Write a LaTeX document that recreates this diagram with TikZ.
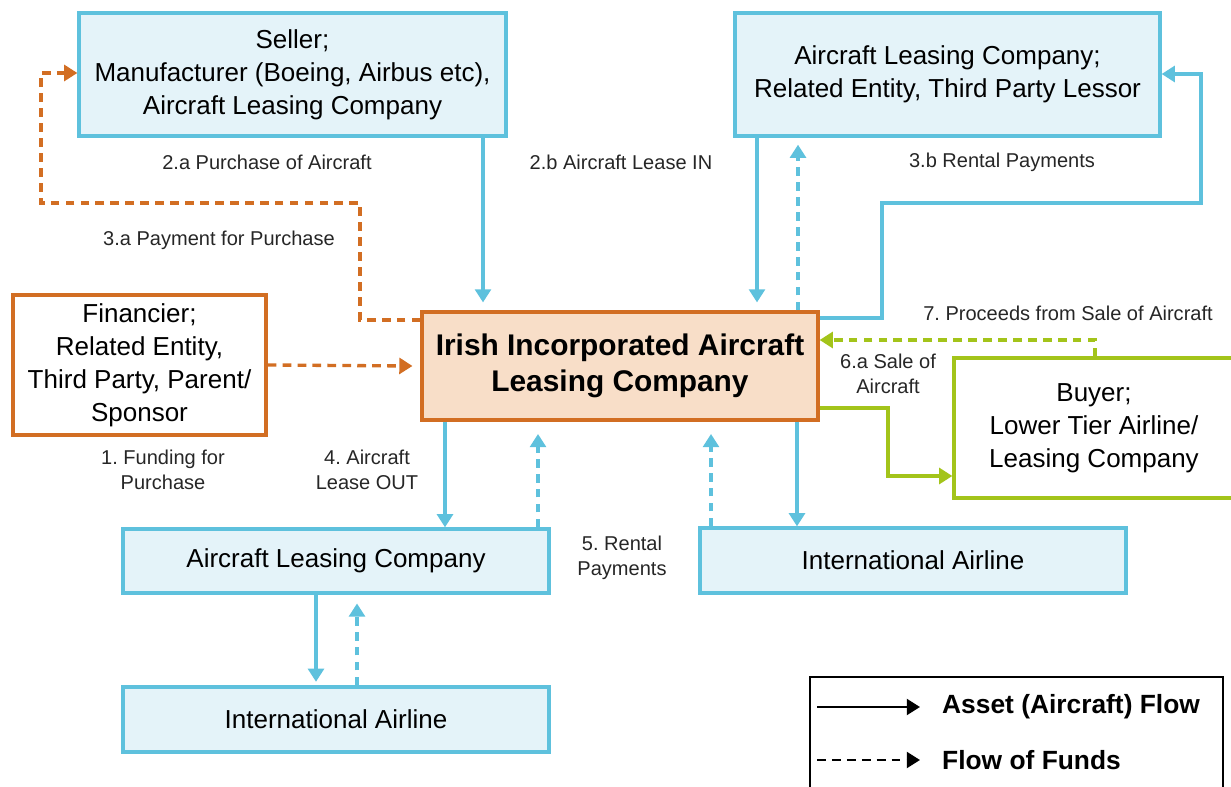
\documentclass[tikz,border=0pt]{standalone}
\usepackage{fontspec}
\setmainfont{Liberation Sans}
\usepackage{xcolor}
\usepackage{tikz}
\usetikzlibrary{positioning, arrows.meta, calc}

\definecolor{skyline}{RGB}{94,193,221}
\definecolor{skyfill}{RGB}{228,243,249}
\definecolor{rust}{RGB}{210,110,35}
\definecolor{peach}{RGB}{248,222,200}
\definecolor{lime}{RGB}{163,196,26}

\frenchspacing
\begin{document}
\begin{tikzpicture}[
  x=0.02cm, y=-0.02cm,
  bigfont/.style={font=\fontsize{14.8}{18.8}\selectfont},
  box/.style={draw=skyline, fill=skyfill, line width=1.9pt, inner sep=0pt,
    align=center, bigfont},
  orangebox/.style={box, draw=rust, fill=white},
  greenbox/.style={box, draw=lime, fill=white},
  lab/.style={font=\fontsize{11.4}{14.2}\selectfont, align=center, text=black!85},
  asset/.style={draw=skyline, line width=1.9pt, -{Triangle[width=9pt,length=7.5pt]}},
  fund/.style={asset, dash pattern=on 5pt off 3.5pt}
]
\useasboundingbox (0,0) rectangle (1231,787);

% boxes
\node[box, minimum width=8.54cm, minimum height=2.46cm] (seller) at (292.5,74.5)
  {Seller;\\Manufacturer (Boeing, Airbus etc),\\Aircraft Leasing Company};
\node[box, minimum width=8.5cm, minimum height=2.46cm] (lessor) at (947.5,74.5)
  {Aircraft Leasing Company;\\Related Entity, Third Party Lessor};
\node[orangebox, minimum width=5.06cm, minimum height=2.8cm] (fin) at (139.5,365)
  {Financier;\\Related Entity,\\Third Party, Parent/\\Sponsor};
\node[box, draw=rust, fill=peach, minimum width=7.92cm, minimum height=2.16cm,
  font=\fontsize{17}{20.5}\selectfont\bfseries] (irish) at (620,366)
  {Irish Incorporated Aircraft\\Leasing Company};
\node[greenbox, minimum width=5.6cm, minimum height=2.8cm] (buyer) at (1094,428)
  {Buyer;\\Lower Tier Airline/\\Leasing Company};
\node[box, minimum width=8.52cm, minimum height=1.28cm] (alc) at (336,561)
  {Aircraft Leasing Company};
\node[box, minimum width=8.52cm, minimum height=1.3cm] (intl) at (913,560.5)
  {International Airline};
\node[box, minimum width=8.52cm, minimum height=1.3cm] (intl2) at (336,719.5)
  {International Airline};

% purchase
\draw[fund, draw=rust] (fin.east) -- ([xshift=-4.5pt]irish.west);
\draw[fund, draw=rust] (irish.west |- 0,320) -| (360,203) -| (41,73) -- (seller.west |- 0,73);
\draw[asset, shorten >=4.5pt] (seller.south -| 483,0) -- (irish.north -| 483,0);

% lease in
\draw[asset, shorten >=4.5pt] (lessor.south -| 757,0) -- (irish.north -| 757,0);
\draw[fund, shorten >=4pt] (irish.north -| 798,0) -- (lessor.south -| 798,0);
\draw[asset] (irish.east |- 0,318) -| (882,203) -| (1201,74) -- (lessor.east |- 0,74);

% sale
\draw[fund, draw=lime] (buyer.north -| 1095,0) |- (irish.east |- 0,340);
\draw[asset, draw=lime] (irish.east |- 0,408) -| (888,476) -- (buyer.west |- 0,476);

% lease out
\draw[asset] (irish.south -| 445,0) -- (alc.north -| 445,0);
\draw[fund, shorten >=7pt] (alc.north -| 538,0) -- (irish.south -| 538,0);
\draw[fund, shorten >=7pt] (intl.north -| 711,0) -- (irish.south -| 711,0);
\draw[asset] (irish.south -| 797,0) -- (intl.north -| 797,0);
\draw[asset, shorten >=2pt] (alc.south -| 316,0) -- (intl2.north -| 316,0);
\draw[fund, shorten >=5pt] (intl2.north -| 357,0) -- (alc.south -| 357,0);

% labels
\node[lab] (l2a) at (267,162) {2.a Purchase of Aircraft};
\node[lab] (l2b) at (621,162) {2.b Aircraft Lease IN};
\node[lab] (l3a) at (219,240) {3.a Payment for Purchase};
\node[lab] (l3b) at (1002,162) {3.b Rental Payments};
\node[lab] (l7) at (1068,313) {7. Proceeds from Sale of Aircraft};
\node[lab] (l6a) at (888,374) {6.a Sale of\\Aircraft};
\node[lab] (l1) at (163,470) {1. Funding for\\Purchase};
\node[lab] (l4) at (367,470) {4. Aircraft\\Lease OUT};
\node[lab] (l5) at (622,558) {5. Rental\\Payments};

% legend
\draw[line width=1pt] (810,677) rectangle (1223,800);
\coordinate (ka) at (817,707);
\coordinate (kb) at (920,707);
\coordinate (kc) at (817,760);
\coordinate (kd) at (920,760);
\draw[asset, draw=black, line width=1.5pt] (ka) -- (kb);
\draw[fund, draw=black, line width=1.5pt] (kc) -- (kd);
\node[anchor=west, bigfont, font=\fontsize{15}{18}\selectfont\bfseries] (k1) at (936,707) {Asset (Aircraft) Flow};
\node[anchor=west, bigfont, font=\fontsize{15}{18}\selectfont\bfseries] (k2) at (936,760) {Flow of Funds};

\end{tikzpicture}
\end{document}
